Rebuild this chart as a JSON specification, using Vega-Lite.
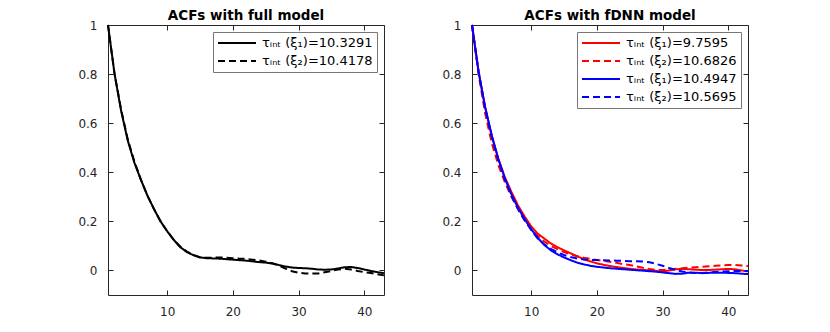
{
"$schema":"https://vega.github.io/schema/vega-lite/v6.json",
"padding":{"left":77,"top":8,"right":0,"bottom":0},
"background":"white",
"datasets":{
"labels":[{"s":"a1","series":"τᵢₙₜ (ξ₁)=10.3291"},{"s":"a2","series":"τᵢₙₜ (ξ₂)=10.4178"},{"s":"r1","series":"τᵢₙₜ (ξ₁)=9.7595"},{"s":"r2","series":"τᵢₙₜ (ξ₂)=10.6826"},{"s":"b1","series":"τᵢₙₜ (ξ₁)=10.4947"},{"s":"b2","series":"τᵢₙₜ (ξ₂)=10.5695"}],
"full":[
{"s":"a1","lag":1,"acf":1.0},{"s":"a1","lag":2,"acf":0.80},{"s":"a1","lag":3,"acf":0.65},{"s":"a1","lag":4,"acf":0.53},{"s":"a1","lag":5,"acf":0.44},{"s":"a1","lag":6,"acf":0.37},{"s":"a1","lag":7,"acf":0.305},{"s":"a1","lag":8,"acf":0.25},{"s":"a1","lag":9,"acf":0.20},{"s":"a1","lag":10,"acf":0.16},{"s":"a1","lag":11,"acf":0.125},{"s":"a1","lag":12,"acf":0.095},{"s":"a1","lag":13,"acf":0.075},{"s":"a1","lag":14,"acf":0.062},{"s":"a1","lag":15,"acf":0.053},{"s":"a1","lag":16,"acf":0.050},{"s":"a1","lag":17,"acf":0.049},{"s":"a1","lag":18,"acf":0.048},{"s":"a1","lag":19,"acf":0.046},{"s":"a1","lag":20,"acf":0.044},{"s":"a1","lag":21,"acf":0.042},{"s":"a1","lag":22,"acf":0.040},{"s":"a1","lag":23,"acf":0.037},{"s":"a1","lag":24,"acf":0.034},{"s":"a1","lag":25,"acf":0.032},{"s":"a1","lag":26,"acf":0.028},{"s":"a1","lag":27,"acf":0.022},{"s":"a1","lag":28,"acf":0.016},{"s":"a1","lag":29,"acf":0.012},{"s":"a1","lag":30,"acf":0.010},{"s":"a1","lag":31,"acf":0.009},{"s":"a1","lag":32,"acf":0.007},{"s":"a1","lag":33,"acf":0.004},{"s":"a1","lag":34,"acf":0.003},{"s":"a1","lag":35,"acf":0.004},{"s":"a1","lag":36,"acf":0.008},{"s":"a1","lag":37,"acf":0.013},{"s":"a1","lag":38,"acf":0.014},{"s":"a1","lag":39,"acf":0.010},{"s":"a1","lag":40,"acf":0.004},{"s":"a1","lag":41,"acf":-0.002},{"s":"a1","lag":42,"acf":-0.007},{"s":"a1","lag":43,"acf":-0.011},
{"s":"a2","lag":1,"acf":1.0},{"s":"a2","lag":2,"acf":0.80},{"s":"a2","lag":3,"acf":0.655},{"s":"a2","lag":4,"acf":0.535},{"s":"a2","lag":5,"acf":0.445},{"s":"a2","lag":6,"acf":0.37},{"s":"a2","lag":7,"acf":0.305},{"s":"a2","lag":8,"acf":0.25},{"s":"a2","lag":9,"acf":0.20},{"s":"a2","lag":10,"acf":0.16},{"s":"a2","lag":11,"acf":0.125},{"s":"a2","lag":12,"acf":0.097},{"s":"a2","lag":13,"acf":0.077},{"s":"a2","lag":14,"acf":0.063},{"s":"a2","lag":15,"acf":0.054},{"s":"a2","lag":16,"acf":0.052},{"s":"a2","lag":17,"acf":0.052},{"s":"a2","lag":18,"acf":0.053},{"s":"a2","lag":19,"acf":0.052},{"s":"a2","lag":20,"acf":0.050},{"s":"a2","lag":21,"acf":0.048},{"s":"a2","lag":22,"acf":0.047},{"s":"a2","lag":23,"acf":0.044},{"s":"a2","lag":24,"acf":0.041},{"s":"a2","lag":25,"acf":0.036},{"s":"a2","lag":26,"acf":0.030},{"s":"a2","lag":27,"acf":0.020},{"s":"a2","lag":28,"acf":0.008},{"s":"a2","lag":29,"acf":-0.003},{"s":"a2","lag":30,"acf":-0.009},{"s":"a2","lag":31,"acf":-0.012},{"s":"a2","lag":32,"acf":-0.013},{"s":"a2","lag":33,"acf":-0.012},{"s":"a2","lag":34,"acf":-0.007},{"s":"a2","lag":35,"acf":-0.002},{"s":"a2","lag":36,"acf":0.004},{"s":"a2","lag":37,"acf":0.007},{"s":"a2","lag":38,"acf":0.004},{"s":"a2","lag":39,"acf":-0.002},{"s":"a2","lag":40,"acf":-0.007},{"s":"a2","lag":41,"acf":-0.010},{"s":"a2","lag":42,"acf":-0.015},{"s":"a2","lag":43,"acf":-0.020}
],
"fdnn":[
{"s":"r1","lag":1,"acf":1.0},{"s":"r1","lag":2,"acf":0.81},{"s":"r1","lag":3,"acf":0.665},{"s":"r1","lag":4,"acf":0.55},{"s":"r1","lag":5,"acf":0.455},{"s":"r1","lag":6,"acf":0.38},{"s":"r1","lag":7,"acf":0.32},{"s":"r1","lag":8,"acf":0.265},{"s":"r1","lag":9,"acf":0.22},{"s":"r1","lag":10,"acf":0.18},{"s":"r1","lag":11,"acf":0.15},{"s":"r1","lag":12,"acf":0.13},{"s":"r1","lag":13,"acf":0.11},{"s":"r1","lag":14,"acf":0.095},{"s":"r1","lag":15,"acf":0.082},{"s":"r1","lag":16,"acf":0.07},{"s":"r1","lag":17,"acf":0.058},{"s":"r1","lag":18,"acf":0.046},{"s":"r1","lag":19,"acf":0.037},{"s":"r1","lag":20,"acf":0.029},{"s":"r1","lag":21,"acf":0.023},{"s":"r1","lag":22,"acf":0.018},{"s":"r1","lag":23,"acf":0.014},{"s":"r1","lag":24,"acf":0.010},{"s":"r1","lag":25,"acf":0.007},{"s":"r1","lag":26,"acf":0.004},{"s":"r1","lag":27,"acf":0.002},{"s":"r1","lag":28,"acf":0.0},{"s":"r1","lag":29,"acf":-0.002},{"s":"r1","lag":30,"acf":-0.004},{"s":"r1","lag":31,"acf":0.0},{"s":"r1","lag":32,"acf":0.005},{"s":"r1","lag":33,"acf":0.006},{"s":"r1","lag":34,"acf":0.005},{"s":"r1","lag":35,"acf":0.003},{"s":"r1","lag":36,"acf":0.002},{"s":"r1","lag":37,"acf":0.002},{"s":"r1","lag":38,"acf":0.003},{"s":"r1","lag":39,"acf":0.005},{"s":"r1","lag":40,"acf":0.006},{"s":"r1","lag":41,"acf":0.005},{"s":"r1","lag":42,"acf":0.0},{"s":"r1","lag":43,"acf":-0.004},
{"s":"r2","lag":1,"acf":1.0},{"s":"r2","lag":2,"acf":0.80},{"s":"r2","lag":3,"acf":0.64},{"s":"r2","lag":4,"acf":0.52},{"s":"r2","lag":5,"acf":0.43},{"s":"r2","lag":6,"acf":0.36},{"s":"r2","lag":7,"acf":0.30},{"s":"r2","lag":8,"acf":0.25},{"s":"r2","lag":9,"acf":0.205},{"s":"r2","lag":10,"acf":0.17},{"s":"r2","lag":11,"acf":0.14},{"s":"r2","lag":12,"acf":0.118},{"s":"r2","lag":13,"acf":0.10},{"s":"r2","lag":14,"acf":0.087},{"s":"r2","lag":15,"acf":0.075},{"s":"r2","lag":16,"acf":0.065},{"s":"r2","lag":17,"acf":0.058},{"s":"r2","lag":18,"acf":0.052},{"s":"r2","lag":19,"acf":0.047},{"s":"r2","lag":20,"acf":0.043},{"s":"r2","lag":21,"acf":0.039},{"s":"r2","lag":22,"acf":0.035},{"s":"r2","lag":23,"acf":0.031},{"s":"r2","lag":24,"acf":0.026},{"s":"r2","lag":25,"acf":0.022},{"s":"r2","lag":26,"acf":0.017},{"s":"r2","lag":27,"acf":0.011},{"s":"r2","lag":28,"acf":0.006},{"s":"r2","lag":29,"acf":0.002},{"s":"r2","lag":30,"acf":0.002},{"s":"r2","lag":31,"acf":0.004},{"s":"r2","lag":32,"acf":0.007},{"s":"r2","lag":33,"acf":0.009},{"s":"r2","lag":34,"acf":0.011},{"s":"r2","lag":35,"acf":0.013},{"s":"r2","lag":36,"acf":0.015},{"s":"r2","lag":37,"acf":0.017},{"s":"r2","lag":38,"acf":0.019},{"s":"r2","lag":39,"acf":0.021},{"s":"r2","lag":40,"acf":0.022},{"s":"r2","lag":41,"acf":0.022},{"s":"r2","lag":42,"acf":0.020},{"s":"r2","lag":43,"acf":0.018},
{"s":"b1","lag":1,"acf":1.0},{"s":"b1","lag":2,"acf":0.81},{"s":"b1","lag":3,"acf":0.665},{"s":"b1","lag":4,"acf":0.55},{"s":"b1","lag":5,"acf":0.455},{"s":"b1","lag":6,"acf":0.375},{"s":"b1","lag":7,"acf":0.31},{"s":"b1","lag":8,"acf":0.255},{"s":"b1","lag":9,"acf":0.21},{"s":"b1","lag":10,"acf":0.168},{"s":"b1","lag":11,"acf":0.133},{"s":"b1","lag":12,"acf":0.104},{"s":"b1","lag":13,"acf":0.082},{"s":"b1","lag":14,"acf":0.066},{"s":"b1","lag":15,"acf":0.053},{"s":"b1","lag":16,"acf":0.042},{"s":"b1","lag":17,"acf":0.032},{"s":"b1","lag":18,"acf":0.025},{"s":"b1","lag":19,"acf":0.019},{"s":"b1","lag":20,"acf":0.015},{"s":"b1","lag":21,"acf":0.012},{"s":"b1","lag":22,"acf":0.009},{"s":"b1","lag":23,"acf":0.007},{"s":"b1","lag":24,"acf":0.005},{"s":"b1","lag":25,"acf":0.003},{"s":"b1","lag":26,"acf":0.001},{"s":"b1","lag":27,"acf":-0.001},{"s":"b1","lag":28,"acf":-0.003},{"s":"b1","lag":29,"acf":-0.005},{"s":"b1","lag":30,"acf":-0.008},{"s":"b1","lag":31,"acf":-0.011},{"s":"b1","lag":32,"acf":-0.014},{"s":"b1","lag":33,"acf":-0.013},{"s":"b1","lag":34,"acf":-0.009},{"s":"b1","lag":35,"acf":-0.009},{"s":"b1","lag":36,"acf":-0.011},{"s":"b1","lag":37,"acf":-0.010},{"s":"b1","lag":38,"acf":-0.009},{"s":"b1","lag":39,"acf":-0.009},{"s":"b1","lag":40,"acf":-0.010},{"s":"b1","lag":41,"acf":-0.011},{"s":"b1","lag":42,"acf":-0.013},{"s":"b1","lag":43,"acf":-0.015},
{"s":"b2","lag":1,"acf":1.0},{"s":"b2","lag":2,"acf":0.81},{"s":"b2","lag":3,"acf":0.66},{"s":"b2","lag":4,"acf":0.545},{"s":"b2","lag":5,"acf":0.45},{"s":"b2","lag":6,"acf":0.37},{"s":"b2","lag":7,"acf":0.305},{"s":"b2","lag":8,"acf":0.25},{"s":"b2","lag":9,"acf":0.205},{"s":"b2","lag":10,"acf":0.165},{"s":"b2","lag":11,"acf":0.13},{"s":"b2","lag":12,"acf":0.106},{"s":"b2","lag":13,"acf":0.088},{"s":"b2","lag":14,"acf":0.074},{"s":"b2","lag":15,"acf":0.063},{"s":"b2","lag":16,"acf":0.055},{"s":"b2","lag":17,"acf":0.049},{"s":"b2","lag":18,"acf":0.045},{"s":"b2","lag":19,"acf":0.043},{"s":"b2","lag":20,"acf":0.043},{"s":"b2","lag":21,"acf":0.042},{"s":"b2","lag":22,"acf":0.041},{"s":"b2","lag":23,"acf":0.040},{"s":"b2","lag":24,"acf":0.039},{"s":"b2","lag":25,"acf":0.038},{"s":"b2","lag":26,"acf":0.037},{"s":"b2","lag":27,"acf":0.036},{"s":"b2","lag":28,"acf":0.033},{"s":"b2","lag":29,"acf":0.027},{"s":"b2","lag":30,"acf":0.019},{"s":"b2","lag":31,"acf":0.010},{"s":"b2","lag":32,"acf":0.002},{"s":"b2","lag":33,"acf":-0.004},{"s":"b2","lag":34,"acf":-0.008},{"s":"b2","lag":35,"acf":-0.010},{"s":"b2","lag":36,"acf":-0.010},{"s":"b2","lag":37,"acf":-0.008},{"s":"b2","lag":38,"acf":-0.006},{"s":"b2","lag":39,"acf":-0.004},{"s":"b2","lag":40,"acf":-0.003},{"s":"b2","lag":41,"acf":-0.002},{"s":"b2","lag":42,"acf":-0.002},{"s":"b2","lag":43,"acf":-0.002}
]
},
"hconcat":[
{
"width":276,"height":270,
"title":{"text":"ACFs with full model"},
"data":{"name":"full"},
"transform":[{"lookup":"s","from":{"data":{"name":"labels"},"key":"s","fields":["series"]}}],
"layer":[
{"mark":{"type":"line","strokeWidth":2},
"encoding":{
"x":{"field":"lag","type":"quantitative","scale":{"domain":[1,43],"nice":false,"zero":false},"axis":{"orient":"bottom","values":[10,20,30,40],"title":null}},
"y":{"field":"acf","type":"quantitative","scale":{"domain":[-0.1,1],"nice":false,"zero":false},"axis":{"orient":"left","values":[0,0.2,0.4,0.6,0.8,1],"format":"~g","title":null}},
"color":{"field":"series","type":"nominal","scale":{"domain":["τᵢₙₜ (ξ₁)=10.3291","τᵢₙₜ (ξ₂)=10.4178"],"range":["#000000","#000000"]},"legend":{"title":null}},
"strokeDash":{"field":"series","type":"nominal","scale":{"domain":["τᵢₙₜ (ξ₁)=10.3291","τᵢₙₜ (ξ₂)=10.4178"],"range":[[1,0],[7,4]]},"legend":{"title":null}}
}},
{"mark":{"type":"line","strokeOpacity":0},
"encoding":{
"x":{"field":"lag","type":"quantitative","axis":{"orient":"top","values":[10,20,30,40],"labels":false,"title":null,"minExtent":0,"maxExtent":0,"labelPadding":0}},
"y":{"field":"acf","type":"quantitative","axis":{"orient":"right","values":[0,0.2,0.4,0.6,0.8,1],"labels":false,"title":null,"minExtent":0,"maxExtent":0,"labelPadding":0}}
}}
],
"resolve":{"axis":{"x":"independent","y":"independent"}}
},
{
"width":276,"height":270,
"title":{"text":"ACFs with fDNN model"},
"data":{"name":"fdnn"},
"transform":[{"lookup":"s","from":{"data":{"name":"labels"},"key":"s","fields":["series"]}}],
"layer":[
{"mark":{"type":"line","strokeWidth":2},
"encoding":{
"x":{"field":"lag","type":"quantitative","scale":{"domain":[1,43],"nice":false,"zero":false},"axis":{"orient":"bottom","values":[10,20,30,40],"title":null}},
"y":{"field":"acf","type":"quantitative","scale":{"domain":[-0.1,1],"nice":false,"zero":false},"axis":{"orient":"left","values":[0,0.2,0.4,0.6,0.8,1],"format":"~g","title":null}},
"color":{"field":"series","type":"nominal","scale":{"domain":["τᵢₙₜ (ξ₁)=9.7595","τᵢₙₜ (ξ₂)=10.6826","τᵢₙₜ (ξ₁)=10.4947","τᵢₙₜ (ξ₂)=10.5695"],"range":["#FF0000","#FF0000","#0000FF","#0000FF"]},"legend":{"title":null}},
"strokeDash":{"field":"series","type":"nominal","scale":{"domain":["τᵢₙₜ (ξ₁)=9.7595","τᵢₙₜ (ξ₂)=10.6826","τᵢₙₜ (ξ₁)=10.4947","τᵢₙₜ (ξ₂)=10.5695"],"range":[[1,0],[7,4],[1,0],[7,4]]},"legend":{"title":null}}
}},
{"mark":{"type":"line","strokeOpacity":0},
"encoding":{
"x":{"field":"lag","type":"quantitative","axis":{"orient":"top","values":[10,20,30,40],"labels":false,"title":null,"minExtent":0,"maxExtent":0,"labelPadding":0}},
"y":{"field":"acf","type":"quantitative","axis":{"orient":"right","values":[0,0.2,0.4,0.6,0.8,1],"labels":false,"title":null,"minExtent":0,"maxExtent":0,"labelPadding":0}}
}}
],
"resolve":{"axis":{"x":"independent","y":"independent"}}
}
],
"resolve":{"scale":{"color":"independent","strokeDash":"independent","x":"independent","y":"independent"},"legend":{"color":"independent","strokeDash":"independent"}},
"spacing":88,
"bounds":"flush",
"config":{
"font":"DejaVu Sans",
"view":{"stroke":"#262626","strokeWidth":1},
"axis":{"domain":false,"grid":false,"tickSize":-5,"tickColor":"#262626","tickWidth":1,"labelColor":"#262626","labelFont":"DejaVu Sans","labelFontSize":12,"labelPadding":16},
"title":{"font":"DejaVu Sans","fontSize":13.5,"fontWeight":"bold","color":"#000000","anchor":"middle","offset":-3},
"legend":{"orient":"top-right","offset":7,"fillColor":"white","strokeColor":"#777777","padding":4,"symbolType":"stroke","symbolSize":1444,"symbolStrokeWidth":2,"labelFont":"DejaVu Sans","labelFontSize":13,"labelColor":"#000000","clipHeight":14,"rowPadding":4,"labelOffset":5}
}
}
